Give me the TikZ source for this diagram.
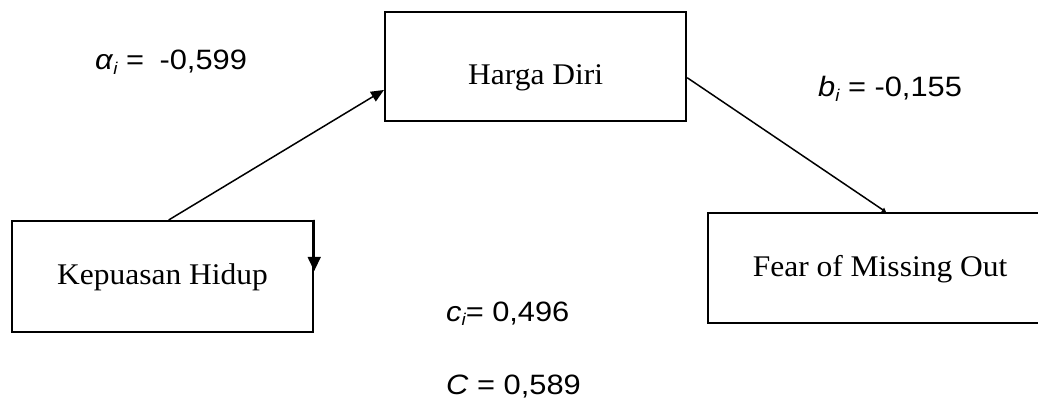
\documentclass[tikz,border=0pt]{standalone}
\usepackage{fontspec}
\setmainfont{Liberation Serif}[FakeStretch=1.05]
\newfontfamily\eqfont{Liberation Sans}[FakeStretch=1.1]
\usetikzlibrary{arrows.meta,calc}
\newcommand{\idx}{\raisebox{-0.3ex}{\fontsize{17}{17}\selectfont\itshape i}}

\begin{document}
\begin{tikzpicture}[x=1pt, y=-1pt, line join=miter,
		kotak/.style={draw, line width=2.2pt, inner sep=0pt, anchor=north west},
		judul/.style={font=\fontsize{30}{34}\selectfont},
		koef/.style={font=\eqfont\fontsize{28}{32}\selectfont, anchor=base west, inner sep=0pt},
		panah/.style={line width=1.5pt, -{Triangle[length=13pt,width=11pt]}}]
		\useasboundingbox (0,0) rectangle (1038,403);
		% kotak variabel
		\node[kotak, minimum width=301pt, minimum height=109pt] (hd) at (384,11) {};
		\node[kotak, minimum width=301pt, minimum height=111pt] (kh) at (11,220) {};
		\node[kotak, minimum width=344pt, minimum height=110pt] (fm) at (707,212) {};
		\node[judul] (hdt) at ($(hd.center)+(0,11)$) {Harga Diri};
		\node[judul] (kht) at ($(kh.center)+(0,1)$) {Kepuasan Hidup};
		\node[judul] (fmt) at ($(fm.center)+(0,1)$) {Fear of Missing Out};
		% jalur
		\coordinate (a1) at ($(kh.north west)!0.52!(kh.north east)$);
		\coordinate (a2) at ($(hd.north west)!0.71!(hd.south west)$);
		\draw[panah] (a1) -- (a2);
		\coordinate (b1) at ($(hd.north east)!0.6!(hd.south east)$);
		\coordinate (b2) at ($(fm.north west)!0.517!(fm.north east)$);
		\draw[line width=1.5pt, -{Triangle[length=4pt,width=5pt]}] (b1) -- (b2);
		\coordinate (c1) at ($(kh.north east)!0.45!(kh.south east)$);
		\draw[line width=1.5pt, -{Triangle[length=14pt,width=13pt]}] (kh.north east) -- (c1);
		% koefisien
		\node[koef] (ka) at (95,70) {\textit{α}\idx{} =\hspace{0.55em}-0,599};
		\node[koef] (kb) at (818,97) {\textit{b}\idx{} = -0,155};
		\node[koef] (kc) at (446,321) {\textit{c}\idx{}= 0,496};
		\node[koef] (kC) at (446,394) {\textit{C} = 0,589};
\end{tikzpicture}
\end{document}
